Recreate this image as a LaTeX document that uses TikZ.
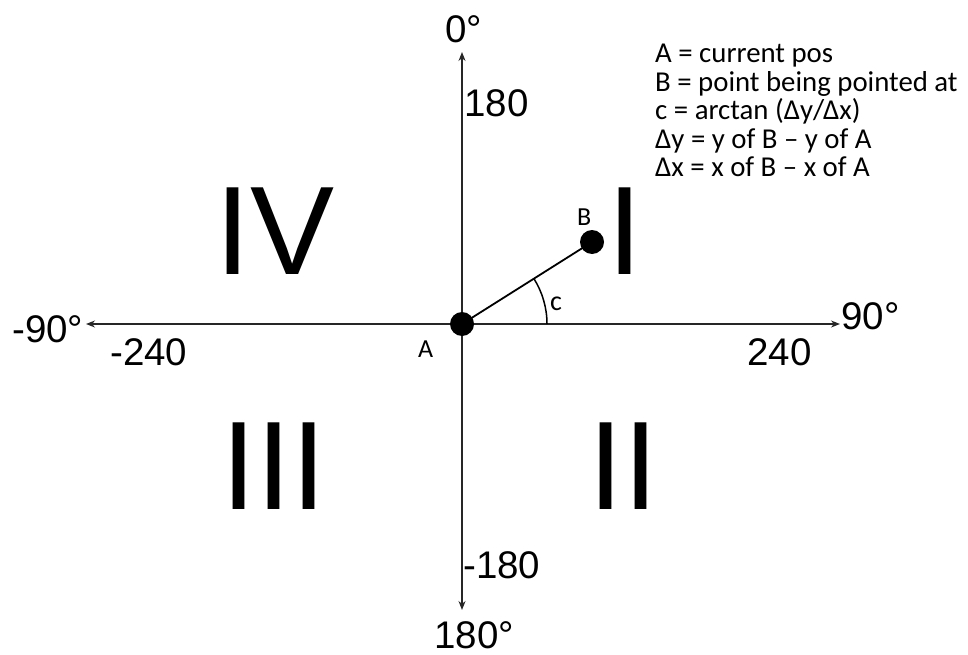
\documentclass[tikz,border=0pt]{standalone}
\usepackage{fontspec}
\setmainfont{Liberation Sans}
\newfontfamily\calfont{Carlito}
\usetikzlibrary{arrows.meta}
\begin{document}
\begin{tikzpicture}[x=1pt,y=-1pt,
  axis/.style={line width=1.3pt, draw=black!85, -{Stealth[length=9pt,width=7pt]}},
  lab/.style={font=\fontsize{38.5}{38.5}\selectfont, inner sep=0, anchor=base west},
  roman/.style={font=\fontsize{126}{126}\selectfont, inner sep=0, anchor=base west},
  note/.style={font=\calfont\fontsize{28.8}{28.8}\selectfont, inner sep=0, anchor=base west},
  ptlab/.style={font=\calfont\fontsize{26}{26}\selectfont, inner sep=0, anchor=base west},
  dot/.style={circle, fill=black, minimum size=24pt, inner sep=0}]
\useasboundingbox (0,0) rectangle (968,655);
% axis ends
\coordinate (top) at (462,52);
\coordinate (bot) at (462,610);
\coordinate (left) at (86,324);
\coordinate (right) at (840,324);
\coordinate (ctr) at (462,324);
\draw[axis] (ctr) -- (top);
\draw[axis] (ctr) -- (bot);
\draw[axis] (ctr) -- (left);
\draw[axis] (ctr) -- (right);
% points
\node[dot] (A) at (462,324) {};
\node[dot] (B) at (592,242) {};
\draw[line width=1.8pt] (A.center) -- (B.center);
\draw[line width=1.5pt] (A.center) ++(85,0) arc[start angle=0, end angle=-32.2, radius=85];
\node[ptlab] (la) at (418,357) {A};
\node[ptlab] (lb) at (577,225) {B};
\node[ptlab, font=\calfont\fontsize{28}{28}\selectfont] (lc) at (550,310) {c};
% axis labels
\node[lab] (l0) at (445,43) {0°};
\node[lab] (l180t) at (464,117) {180};
\node[lab] (lm240) at (110,365) {-240};
\node[lab] (lm90) at (12,342) {-90°};
\node[lab] (l90) at (841,329) {90°};
\node[lab] (l240) at (747,365) {240};
\node[lab] (lm180) at (463,578) {-180};
\node[lab] (l180b) at (434,648) {180°};
% quadrants
\node[roman] (q4) at (215,274) {IV};
\node[roman] (q1) at (607,274) {I};
\node[roman] (q3) at (221,509) {III};
\node[roman] (q2) at (588,509) {II};
% notes
\node[note] (n1) at (655,63) {A = current pos};
\node[note] (n2) at (655,91.5) {B = point being pointed at};
\node[note] (n3) at (655,120) {c = arctan (Δy/Δx)};
\node[note] (n4) at (655,148.5) {Δy = y of B – y of A};
\node[note] (n5) at (655,177) {Δx = x of B – x of A};
\end{tikzpicture}
\end{document}
